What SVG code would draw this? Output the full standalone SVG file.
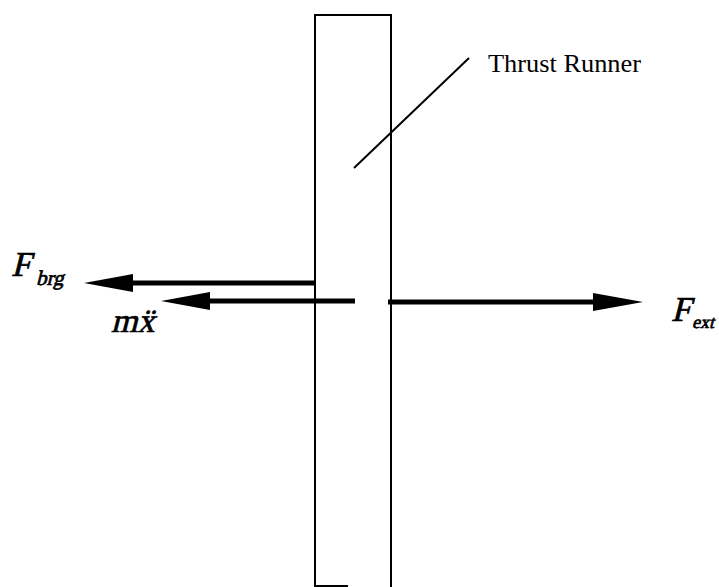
<svg xmlns="http://www.w3.org/2000/svg" width="719" height="587" viewBox="0 0 719 587">
<defs>
<style>
.shape{fill:none;stroke:#000;stroke-width:2}
.arrow{stroke:#000;stroke-width:5;fill:none}
.head{fill:#000;stroke:none}
.lbl{font-family:"Liberation Serif","Times New Roman",serif;fill:#000}
.it{font-family:"Liberation Serif","Times New Roman",serif;fill:#000;stroke:#000;stroke-width:0.7}
</style>
</defs>
<rect width="719" height="587" fill="#fff"/>
<g id="runner">
<path class="shape" d="M315,587 V15 H391 V587"/>
<line class="shape" x1="315" y1="586" x2="348" y2="586" stroke-width="3"/>
</g>
<g id="leader">
<line class="shape" x1="354" y1="168" x2="469" y2="58" stroke-width="3"/>
</g>
<g id="label-thrust-runner">
<text class="lbl" x="488" y="72" font-size="25" textLength="153" lengthAdjust="spacingAndGlyphs">Thrust Runner</text>
</g>
<g id="connectors">
<line class="arrow" x1="316" y1="283" x2="128" y2="283"/>
<polygon class="head" points="84,283 133,274 133,292"/>
<line class="arrow" x1="355" y1="301" x2="205" y2="301"/>
<polygon class="head" points="161,301 210,292 210,310"/>
<line class="arrow" x1="388" y1="302" x2="598" y2="302"/>
<polygon class="head" points="643,302 593,293 593,311"/>
</g>
<g id="label-fbrg">
<text class="it" transform="translate(11,276) skewX(-14)" font-size="35">F</text>
<text class="it" transform="translate(36,285) skewX(-14)" font-size="21" stroke-width="0.5">brg</text>
</g>
<g id="label-mxdd">
<text class="it" transform="translate(111,332) skewX(-14)" font-size="34">mẍ</text>
</g>
<g id="label-fext">
<text class="it" transform="translate(671,321) skewX(-14)" font-size="35">F</text>
<text class="it" transform="translate(692,328) skewX(-14)" font-size="18" stroke-width="0.5">ext</text>
</g>
</svg>
